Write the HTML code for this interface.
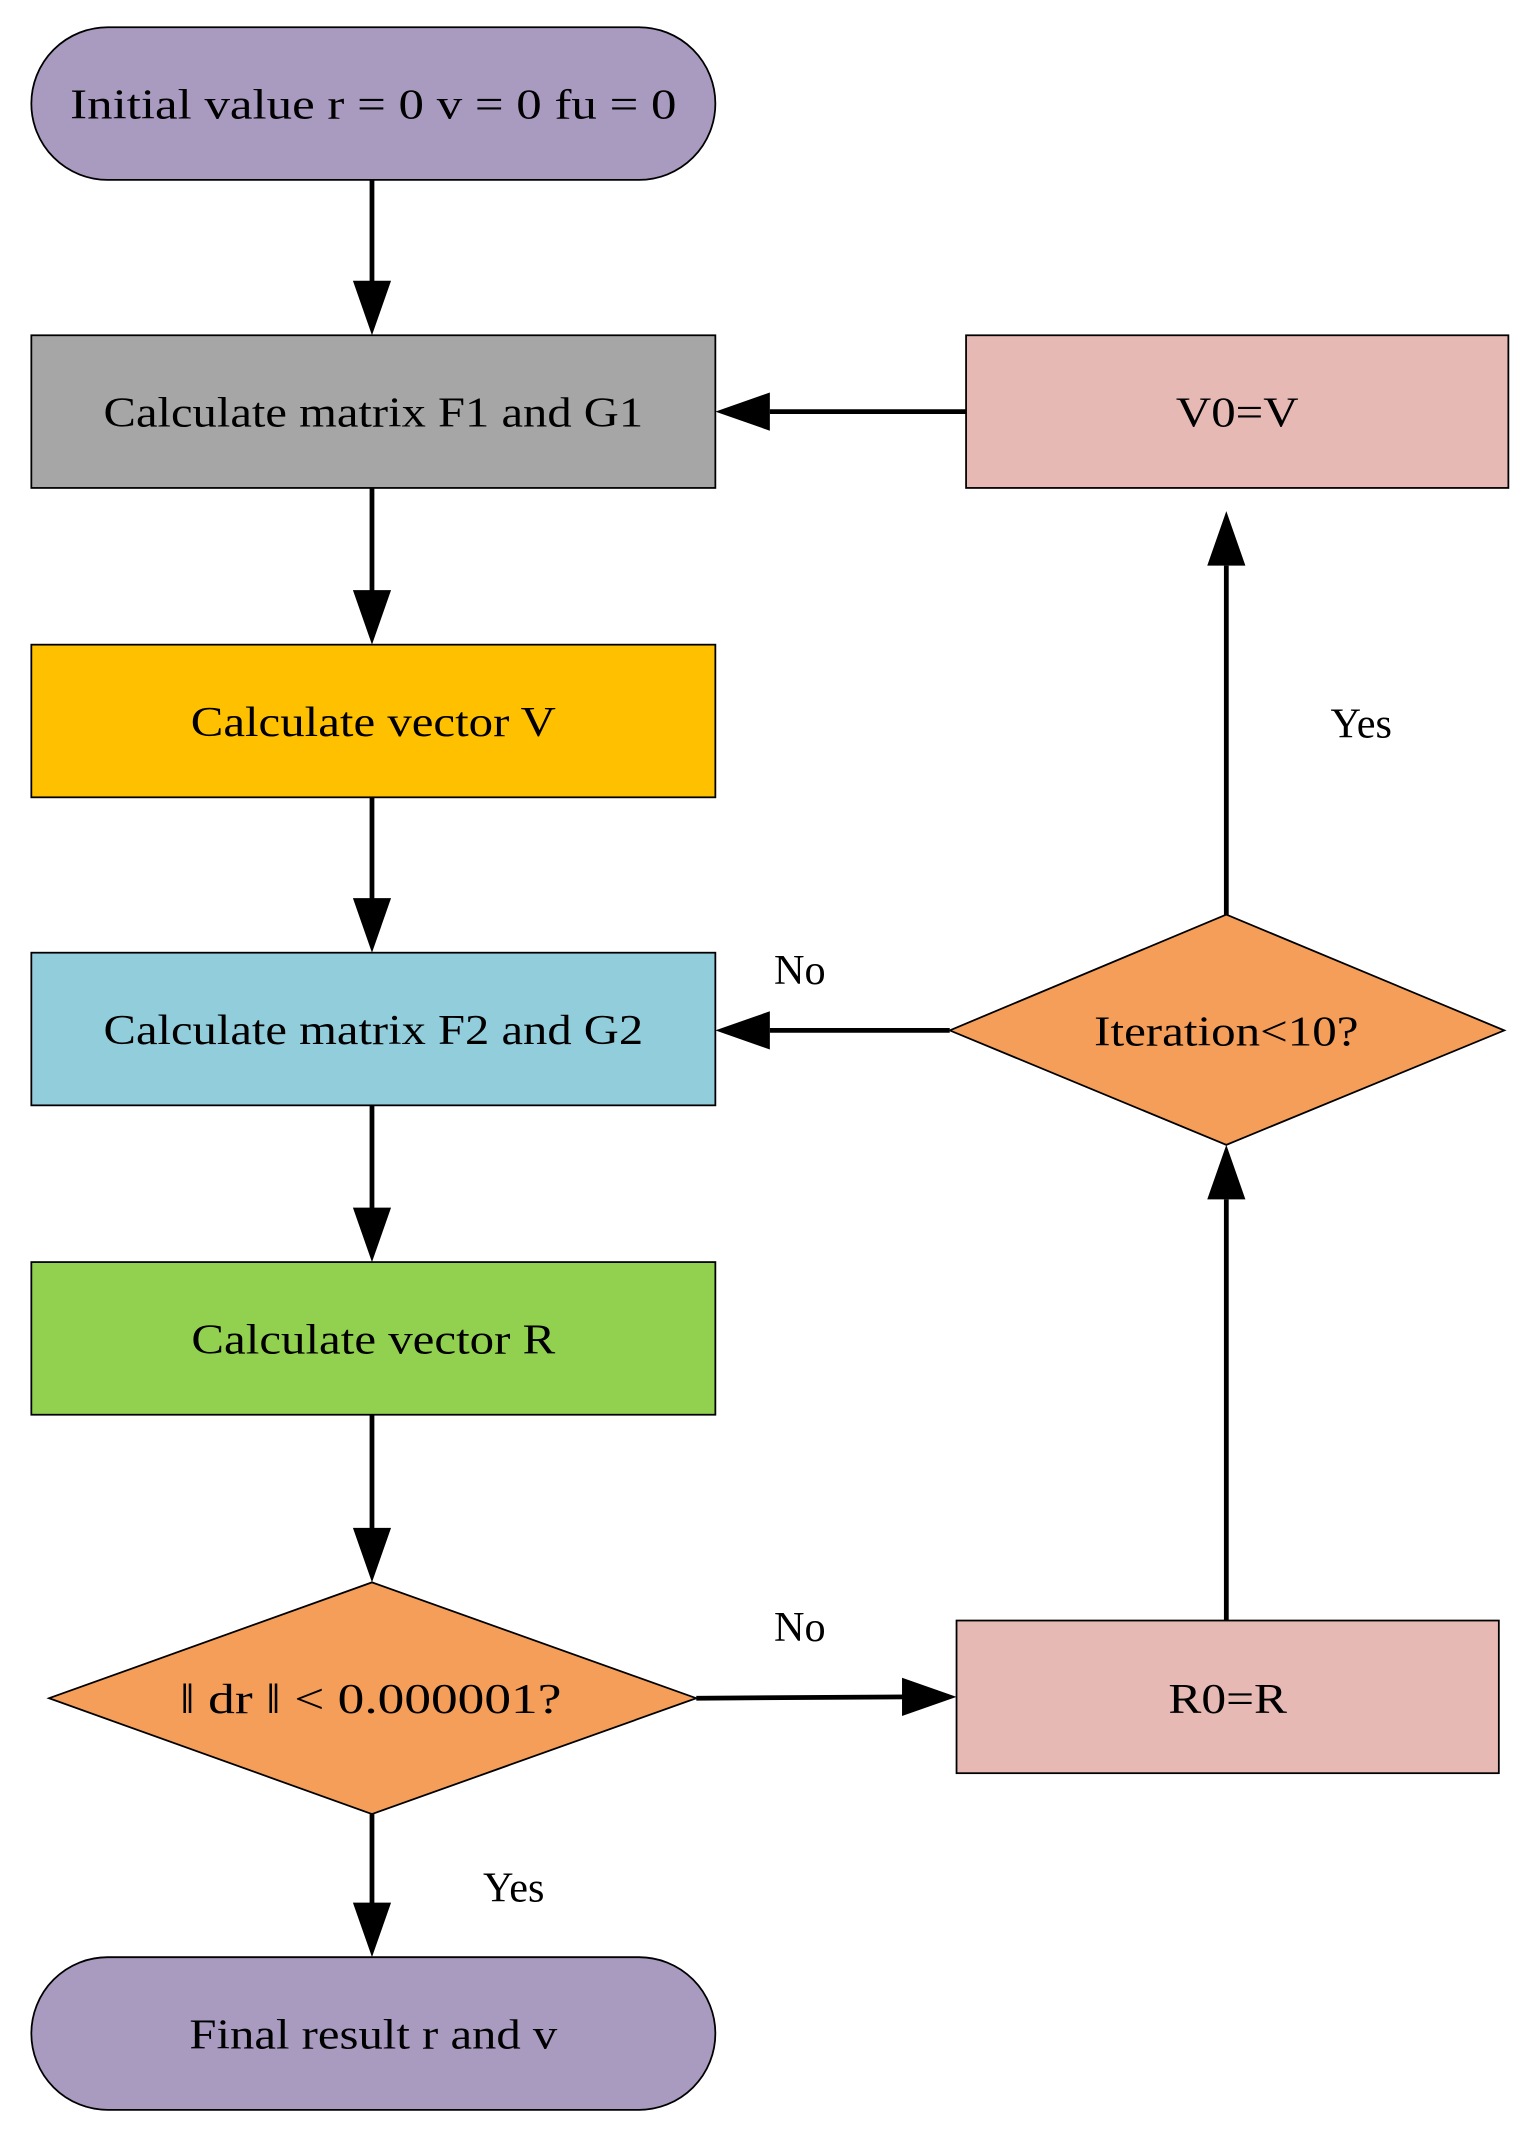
<!DOCTYPE html>
<html><head><meta charset="utf-8"><style>
html,body{margin:0;padding:0;background:#fff;}
svg{display:block;}
text{font-family:"Liberation Serif",serif;font-size:31px;fill:#000;}
</style></head><body>
<svg width="1522" height="2133" viewBox="0 0 1117 1565" preserveAspectRatio="none" xmlns="http://www.w3.org/2000/svg">
<g stroke="#000" stroke-width="1.3">
<rect x="23" y="20" width="502" height="112" rx="56" ry="56" fill="#A99AC0"/>
<rect x="23" y="246" width="502" height="112" fill="#A6A6A6"/>
<rect x="23" y="473" width="502" height="112" fill="#FFC000"/>
<rect x="23" y="699" width="502" height="112" fill="#92CDDC"/>
<rect x="23" y="926" width="502" height="112" fill="#92D050"/>
<polygon points="36,1246 273,1161 511,1246 273,1331" fill="#F49E5A"/>
<rect x="23" y="1436" width="502" height="112" rx="56" ry="56" fill="#A99AC0"/>
<rect x="709" y="246" width="398" height="112" fill="#E6B9B5"/>
<polygon points="697,756 900,671 1104,756 900,840" fill="#F49E5A"/>
<rect x="702" y="1189" width="398" height="112" fill="#E6B9B5"/>
</g>
<g stroke="#000" stroke-width="3.5" fill="none">
<line x1="273" y1="132" x2="273" y2="210"/>
<line x1="273" y1="358" x2="273" y2="437"/>
<line x1="273" y1="585" x2="273" y2="663"/>
<line x1="273" y1="811" x2="273" y2="890"/>
<line x1="273" y1="1038" x2="273" y2="1125"/>
<line x1="273" y1="1331" x2="273" y2="1400"/>
<line x1="511" y1="1246" x2="666" y2="1245"/>
<line x1="900" y1="1189" x2="900" y2="880"/>
<line x1="900" y1="671" x2="900" y2="415"/>
<line x1="709" y1="302" x2="565" y2="302"/>
<line x1="697" y1="756" x2="565" y2="756"/>
</g>
<g fill="#000">
<polygon points="259,206 287,206 273,246"/>
<polygon points="259,433 287,433 273,473"/>
<polygon points="259,659 287,659 273,699"/>
<polygon points="259,886 287,886 273,926"/>
<polygon points="259,1121 287,1121 273,1161"/>
<polygon points="259,1396 287,1396 273,1436"/>
<polygon points="662,1231 662,1259 702,1245"/>
<polygon points="886,880 914,880 900,840"/>
<polygon points="886,415 914,415 900,375"/>
<polygon points="565,288 565,316 525,302"/>
<polygon points="565,742 565,770 525,756"/>
</g>
<g text-anchor="middle">
<text x="274" y="87" textLength="445" lengthAdjust="spacingAndGlyphs">Initial value r = 0  v = 0  fu = 0</text>
<text x="274" y="313" textLength="396" lengthAdjust="spacingAndGlyphs">Calculate matrix F1 and G1</text>
<text x="274" y="540" textLength="268" lengthAdjust="spacingAndGlyphs">Calculate vector V</text>
<text x="274" y="766" textLength="396" lengthAdjust="spacingAndGlyphs">Calculate matrix F2 and G2</text>
<text x="274" y="993" textLength="267" lengthAdjust="spacingAndGlyphs">Calculate vector R</text>
<text x="272" y="1257" textLength="280" lengthAdjust="spacingAndGlyphs">‖ dr ‖  &lt; 0.000001?</text>
<text x="274" y="1503" textLength="270" lengthAdjust="spacingAndGlyphs">Final result r and v</text>
<text x="908" y="313" textLength="90" lengthAdjust="spacingAndGlyphs">V0=V</text>
<text x="900" y="767" textLength="194" lengthAdjust="spacingAndGlyphs">Iteration&lt;10?</text>
<text x="901" y="1257" textLength="87" lengthAdjust="spacingAndGlyphs">R0=R</text>
<text x="587" y="722">No</text>
<text x="999" y="541">Yes</text>
<text x="587" y="1204">No</text>
<text x="377" y="1395">Yes</text>
</g>
</svg>
</body></html>
